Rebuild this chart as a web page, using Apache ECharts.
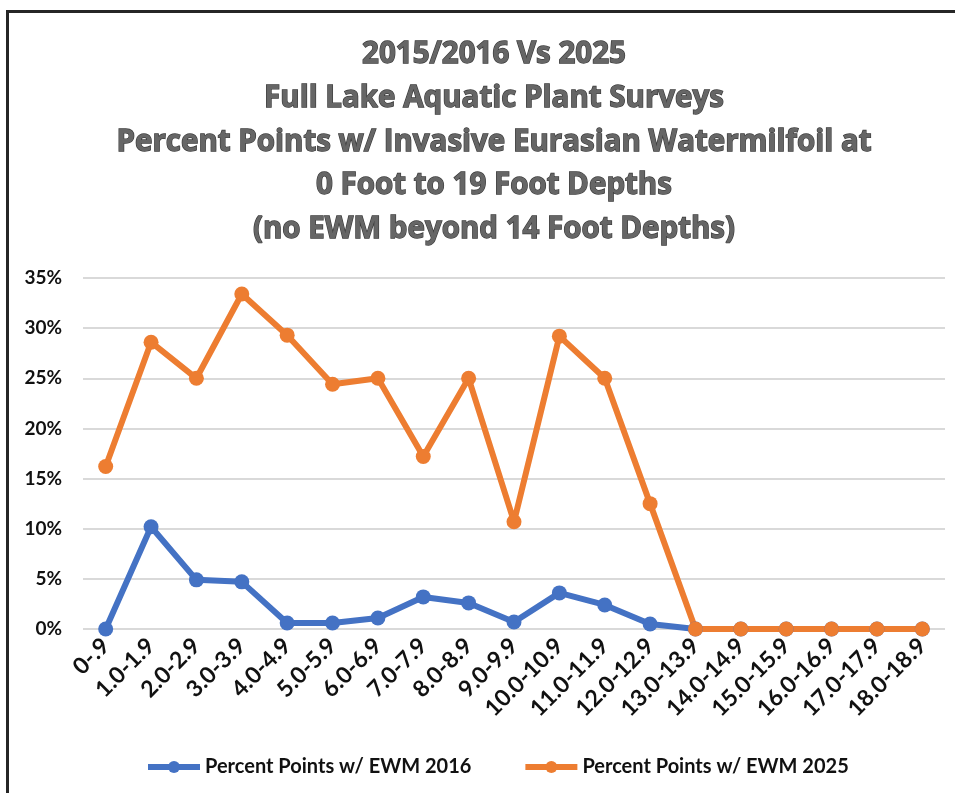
<!DOCTYPE html>
<html>
<head>
<meta charset="utf-8">
<script src="https://cdn.jsdelivr.net/npm/echarts@6/dist/echarts.min.js"></script>
<style>
  html, body { margin: 0; padding: 0; background: #fff; }
  #frame {
    position: absolute; left: 6px; top: 10px; width: 960px; height: 800px;
    border-left: 3px solid #262626; border-top: 3px solid #262626;
  }
  #chart { position: absolute; left: 0; top: 0; width: 955px; height: 793px; }
</style>
</head>
<body>
<div id="frame"></div>
<div id="chart"></div>
<script>
const depthBins = ["0-.9", "1.0-1.9", "2.0-2.9", "3.0-3.9", "4.0-4.9", "5.0-5.9", "6.0-6.9",
  "7.0-7.9", "8.0-8.9", "9.0-9.9", "10.0-10.9", "11.0-11.9", "12.0-12.9", "13.0-13.9",
  "14.0-14.9", "15.0-15.9", "16.0-16.9", "17.0-17.9", "18.0-18.9"];
const ewm2016 = [0, 10.2, 4.9, 4.7, 0.6, 0.6, 1.1, 3.2, 2.6, 0.7, 3.6, 2.4, 0.5, 0, 0, 0, 0, 0, 0];
const ewm2025 = [16.2, 28.6, 25.0, 33.4, 29.3, 24.4, 25.0, 17.2, 25.0, 10.7, 29.2, 25.0, 12.5, 0, 0, 0, 0, 0, 0];
const titleLines = [
  "2015/2016 Vs 2025",
  "Full Lake Aquatic Plant Surveys",
  "Percent Points w/ Invasive Eurasian Watermilfoil at",
  "0 Foot to 19 Foot Depths",
  "(no EWM beyond 14 Foot Depths)"
];

const font = "Lato, 'DejaVu Sans', sans-serif";
const chart = echarts.init(document.getElementById("chart"));

function lineSeries(name, data, color) {
  return {
    name: name,
    type: "line",
    data: data,
    symbol: "circle",
    symbolSize: 15,
    lineStyle: { width: 6, color: color },
    itemStyle: { color: color },
    animation: false
  };
}

chart.setOption({
  backgroundColor: "transparent",
  title: {
    text: titleLines.join("\n"),
    left: 489,
    top: 28,
    textAlign: "center",
    textStyle: {
      fontFamily: "'Open Sans', sans-serif",
      fontWeight: "bold",
      fontSize: 29.5,
      lineHeight: 43.7,
      color: "#666666",
      textBorderColor: "#3a3a3a",
      textBorderWidth: 1.3
    }
  },
  grid: { left: 83, right: 10, top: 278, bottom: 164, containLabel: false },
  legend: {
    orient: "horizontal",
    top: 752,
    left: 140,
    itemWidth: 52,
    itemHeight: 15,
    itemGap: 51,
    lineStyle: { width: 6 },
    textStyle: { fontFamily: font, fontWeight: "bold", fontSize: 20, color: "#111" },
    data: ["Percent Points w/ EWM 2016", "Percent Points w/ EWM 2025"]
  },
  xAxis: {
    type: "category",
    data: depthBins,
    axisLine: { show: false },
    axisTick: { show: false },
    axisLabel: {
      rotate: 45,
      interval: 0,
      margin: 13,
      fontFamily: font,
      fontWeight: "bold",
      fontSize: 23,
      color: "#111"
    }
  },
  yAxis: {
    type: "value",
    min: 0,
    max: 35,
    interval: 5,
    axisLine: { show: false },
    axisTick: { show: false },
    splitLine: { lineStyle: { color: "#d9d9d9", width: 2 } },
    axisLabel: {
      formatter: "{value}%",
      margin: 21,
      fontFamily: font,
      fontWeight: "bold",
      fontSize: 19,
      color: "#111"
    }
  },
  series: [
    lineSeries("Percent Points w/ EWM 2016", ewm2016, "#4472C4"),
    lineSeries("Percent Points w/ EWM 2025", ewm2025, "#ED7D31")
  ]
});
</script>
</body>
</html>
